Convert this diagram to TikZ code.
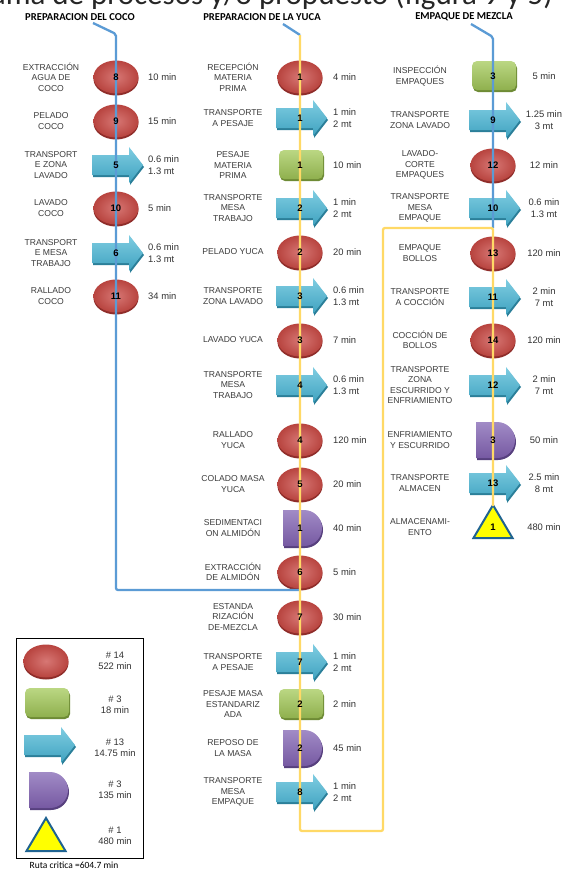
\documentclass[tikz,border=0pt]{standalone}
\usepackage{fontspec}
\setmainfont{Liberation Sans}
\newfontfamily\carlito{Carlito}
\definecolor{elin}{HTML}{D77774}
\definecolor{elout}{HTML}{B8443F}
\definecolor{elrim}{HTML}{8F2D2A}
\definecolor{artop}{HTML}{7FCDE2}
\definecolor{arbot}{HTML}{3FA2BF}
\definecolor{ardark}{HTML}{2B7F99}
\definecolor{grtop}{HTML}{BBD783}
\definecolor{grbot}{HTML}{8FB04E}
\definecolor{grdark}{HTML}{6E8B35}
\definecolor{putop}{HTML}{A18BC6}
\definecolor{pubot}{HTML}{7659A2}
\definecolor{pudark}{HTML}{57407E}
\definecolor{triyel}{HTML}{FFFF00}
\definecolor{tribl}{HTML}{1F6391}
\definecolor{lnblue}{HTML}{5B9BD5}
\definecolor{lnyel}{HTML}{FFD966}
\definecolor{labgray}{HTML}{3C3C3C}
\definecolor{tmgray}{HTML}{333333}
\pgfdeclarelayer{bg}
\pgfdeclarelayer{shapes}
\pgfdeclarelayer{lines}
\pgfsetlayers{bg,shapes,lines,main}
\newcommand\shpE[2]{\begin{pgfonlayer}{shapes}
 \fill[elrim] (#1,#2+2) ellipse [x radius=22.5pt,y radius=16.5pt];
 \shade[inner color=elin,outer color=elout] (#1,#2) ellipse [x radius=22.5pt,y radius=16.5pt];
\end{pgfonlayer}}
\newcommand\shpA[2]{\begin{pgfonlayer}{shapes}
 \fill[ardark] (#1-23,#2-8) -- (#1+14,#2-8) -- (#1+14,#2-16) -- (#1+28,#2+2) -- (#1+14,#2+20) -- (#1+14,#2+12) -- (#1-23,#2+12) -- cycle;
 \shade[top color=artop,bottom color=arbot] (#1-24,#2-10) -- (#1+13,#2-10) -- (#1+13,#2-18) -- (#1+27,#2) -- (#1+13,#2+18) -- (#1+13,#2+10) -- (#1-24,#2+10) -- cycle;
\end{pgfonlayer}}
\newcommand\shpR[2]{\begin{pgfonlayer}{shapes}
 \fill[grdark,rounded corners=5pt] (#1-20,#2-13) rectangle (#1+24,#2+16);
 \shade[top color=grtop,bottom color=grbot,rounded corners=5pt] (#1-21,#2-15) rectangle (#1+23,#2+14);
\end{pgfonlayer}}
\newcommand\shpD[2]{\begin{pgfonlayer}{shapes}
 \fill[pudark] (#1-16,#2-16) -- (#1+5,#2-16) .. controls (#1+15,#2-16) and (#1+23,#2-8) .. (#1+23,#2+2) .. controls (#1+23,#2+12) and (#1+15,#2+20) .. (#1+5,#2+20) -- (#1-16,#2+20) -- cycle;
 \shade[top color=putop,bottom color=pubot] (#1-17,#2-18) -- (#1+4,#2-18) .. controls (#1+14,#2-18) and (#1+22,#2-10) .. (#1+22,#2) .. controls (#1+22,#2+10) and (#1+14,#2+18) .. (#1+4,#2+18) -- (#1-17,#2+18) -- cycle;
\end{pgfonlayer}}
\newcommand\shpT[2]{\begin{pgfonlayer}{shapes}
 \filldraw[fill=triyel,draw=tribl,line width=2pt,line join=miter] (#1,#2-22) -- (#1+19.5,#2+11) -- (#1-19.5,#2+11) -- cycle;
\end{pgfonlayer}}
\newcommand\oprow[6]{%
 \csname shp#1\endcsname{\cx}{#3}%
 \node[num] (#2) at (\cx,#3) {#4};
 \node[lbl] (#2l) at (\lx,#3) {#5};
 \node[tcol] (#2t) at (\tx,#3) {#6};
}
\begin{document}
\begin{tikzpicture}[x=1pt,y=-1pt,
 lbl/.style={align=center,font=\fontsize{8.6}{10.4}\selectfont,text=labgray,inner sep=0pt},
 tm/.style={align=left,anchor=west,font=\fontsize{9.4}{11.5}\selectfont,text=tmgray,inner sep=0pt},
 tmc/.style={align=center,font=\fontsize{9.4}{11.5}\selectfont,text=tmgray,inner sep=0pt},
 num/.style={font=\bfseries\fontsize{9.5}{10}\selectfont,inner sep=0pt},
 hdr/.style={font=\carlito\bfseries\fontsize{10.6}{12}\selectfont,inner sep=0pt},
 bline/.style={draw=lnblue,line width=2.3pt,rounded corners=2pt},
 yline/.style={draw=lnyel,line width=2.3pt,rounded corners=2pt},
 leg/.style={align=center,font=\fontsize{9.4}{11.5}\selectfont,text=tmgray,inner sep=0pt}]
\useasboundingbox (0,0) rectangle (565,870);
\begin{pgfonlayer}{bg}
\fill[white] (0,0) rectangle (565,870);
\end{pgfonlayer}
\node[anchor=base east,font=\carlito\fontsize{31}{36}\selectfont,text=black!85,inner sep=0pt] (ttl) at (553,5) {diagrama de procesos y/o propuesto (figura 9 y 5)};
\node[hdr] (hdr1) at (80,17) {PREPARACION DEL COCO};
\node[hdr] (hdr2) at (262,17) {PREPARACION DE LA YUCA};
\node[hdr] (hdr3) at (464,17) {EMPAQUE DE MEZCLA};
% column 1
\def\cx{116}\def\lx{51}\def\tx{148}\tikzset{tcol/.style={tm}}
\oprow{E}{c8}{77}{8}{EXTRACCIÓN\\AGUA DE\\COCO}{10 min}
\oprow{E}{c9}{121}{9}{PELADO\\COCO}{15 min}
\oprow{A}{c5}{165}{5}{TRANSPORT\\E ZONA\\LAVADO}{0.6 min\\1.3 mt}
\oprow{E}{c10}{208}{10}{LAVADO\\COCO}{5 min}
\oprow{A}{c6}{253}{6}{TRANSPORT\\E MESA\\TRABAJO}{0.6 min\\1.3 mt}
\oprow{E}{c11}{296}{11}{RALLADO\\COCO}{34 min}
% column 2
\def\cx{300}\def\lx{233}\def\tx{333}\tikzset{tcol/.style={tm}}
\oprow{E}{y1}{77}{1}{RECEPCIÓN\\MATERIA\\PRIMA}{4 min}
\oprow{A}{ya1}{118}{1}{TRANSPORTE\\A PESAJE}{1 min\\2 mt}
\oprow{R}{yr1}{165}{1}{PESAJE\\MATERIA\\PRIMA}{10 min}
\oprow{A}{ya2}{208}{2}{TRANSPORTE\\MESA\\TRABAJO}{1 min\\2 mt}
\oprow{E}{y2}{252}{2}{PELADO YUCA}{20 min}
\oprow{A}{ya3}{296}{3}{TRANSPORTE\\ZONA LAVADO}{0.6 min\\1.3 mt}
\oprow{E}{y3}{340}{3}{LAVADO YUCA}{7 min}
\oprow{A}{ya4}{385}{4}{TRANSPORTE\\MESA\\TRABAJO}{0.6 min\\1.3 mt}
\oprow{E}{y4}{440}{4}{RALLADO\\YUCA}{120 min}
\oprow{E}{y5}{484}{5}{COLADO MASA\\YUCA}{20 min}
\oprow{D}{yd1}{528}{1}{SEDIMENTACI\\ON ALMIDÓN}{40 min}
\oprow{E}{y6}{572}{6}{EXTRACCIÓN\\DE ALMIDÓN}{5 min}
\oprow{E}{y7}{617}{7}{ESTANDA\\RIZACIÓN\\DE-MEZCLA}{30 min}
\oprow{A}{ya7}{662}{7}{TRANSPORTE\\A PESAJE}{1 min\\2 mt}
\oprow{R}{yr2}{704}{2}{PESAJE MASA\\ESTANDARIZ\\ADA}{2 min}
\oprow{D}{yd2}{748}{2}{REPOSO DE\\LA MASA}{45 min}
\oprow{A}{ya8}{792}{8}{TRANSPORTE\\MESA\\EMPAQUE}{1 min\\2 mt}
% column 3
\def\cx{493}\def\lx{420}\def\tx{544}\tikzset{tcol/.style={tmc}}
\oprow{R}{er3}{76}{3}{INSPECCIÓN\\EMPAQUES}{5 min}
\oprow{A}{ea9}{120}{9}{TRANSPORTE\\ZONA LAVADO}{1.25 min\\3 mt}
\oprow{E}{e12}{165}{12}{LAVADO-\\CORTE\\EMPAQUES}{12 min}
\oprow{A}{ea10}{208}{10}{TRANSPORTE\\MESA\\EMPAQUE}{0.6 min\\1.3 mt}
\oprow{E}{e13}{253}{13}{EMPAQUE\\BOLLOS}{120 min}
\oprow{A}{ea11}{297}{11}{TRANSPORTE\\A COCCIÓN}{2 min\\7 mt}
\oprow{E}{e14}{340}{14}{COCCIÓN DE\\BOLLOS}{120 min}
\oprow{A}{ea12}{385}{12}{TRANSPORTE\\ZONA\\ESCURRIDO Y\\ENFRIAMIENTO}{2 min\\7 mt}
\oprow{D}{ed3}{440}{3}{ENFRIAMIENTO\\Y ESCURRIDO}{50 min}
\oprow{A}{ea13}{483}{13}{TRANSPORTE\\ALMACEN}{2.5 min\\8 mt}
\oprow{T}{et1}{527}{1}{ALMACENAMI-\\ENTO}{480 min}
% route lines
\coordinate (h1d) at (93,23);  \coordinate (c1a) at (116,34);
\coordinate (c1b) at (116,590); \coordinate (c1c) at (300,590);
\coordinate (h2d) at (283,24); \coordinate (c2a) at (300,35);
\coordinate (c2b) at (300,831); \coordinate (c2c) at (383,831);
\coordinate (c2d) at (383,228); \coordinate (c2e) at (493,228);
\coordinate (c2f) at (493,506);
\coordinate (h3d) at (471,24); \coordinate (c3a) at (493,37);
\begin{pgfonlayer}{lines}
\draw[bline] (h1d) -- (c1a) -- (c1b) -- (c1c);
\draw[bline] (h2d) -- (c2a);
\draw[bline] (h3d) -- (c3a) -- (c2e);
\draw[yline] (c2a) -- (c2b) -- (c2c) -- (c2d) -- (c2e) -- (c2f);
\end{pgfonlayer}
% legend
\draw[black,line width=0.8pt] (16,638) rectangle (143,858);
\shpE{46}{661}\shpR{46}{703}\shpA{48}{745}\shpD{46}{790}\shpT{46}{840}
\node[leg] (l1) at (115,661) {\# 14\\522 min};
\node[leg] (l2) at (115,705) {\# 3\\18 min};
\node[leg] (l3) at (115,748) {\# 13\\14.75 min};
\node[leg] (l4) at (115,790) {\# 3\\135 min};
\node[leg] (l5) at (115,836) {\# 1\\480 min};
\node[font=\carlito\fontsize{9.5}{11}\selectfont,inner sep=0pt] (ruta) at (74,865) {Ruta critica =604.7 min};
\end{tikzpicture}
\end{document}
